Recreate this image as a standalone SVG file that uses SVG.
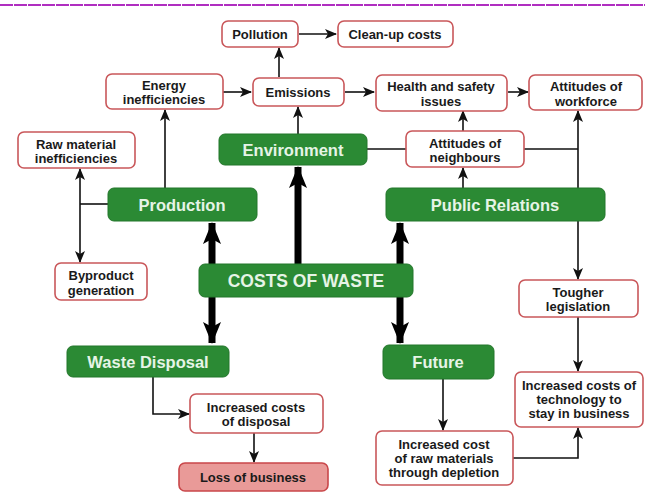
<svg xmlns="http://www.w3.org/2000/svg" width="645" height="492" viewBox="0 0 645 492">
<style>
.box{fill:#fff;stroke:#c9575a;stroke-width:1.6}
.loss{fill:#e99a98;stroke:#c9474a;stroke-width:1.6}
.g{fill:#2b8a34;stroke:#23762b;stroke-width:1}
.t{font-family:"Liberation Sans",Arial,sans-serif;font-weight:bold;font-size:13px;fill:#1a1a1a;text-anchor:middle;dominant-baseline:central}
.gt{font-family:"Liberation Sans",Arial,sans-serif;font-weight:bold;font-size:16.5px;fill:#e6f4e6;text-anchor:middle;dominant-baseline:central}
.ln{fill:none;stroke:#111;stroke-width:1.6}
.thick{fill:none;stroke:#000;stroke-width:7}
</style>
<defs>
<marker id="a" markerUnits="userSpaceOnUse" markerWidth="12" markerHeight="10" refX="11" refY="5" orient="auto-start-reverse"><path d="M0,0 L12,5 L0,10 L3,5 Z" fill="#111"/></marker>
<marker id="b" markerUnits="userSpaceOnUse" markerWidth="22" markerHeight="18" refX="21" refY="9" orient="auto-start-reverse"><path d="M0,0 L22,9 L0,18 L5,9 Z" fill="#000"/></marker>
</defs>
<line x1="0" y1="5" x2="645" y2="5" stroke="#b02ec0" stroke-width="2" stroke-dasharray="13 1"/>
<g id="connectors">
<line class="ln" x1="299" y1="34" x2="336" y2="34" marker-end="url(#a)"/>
<line class="ln" x1="279" y1="77" x2="279" y2="48" marker-end="url(#a)"/>
<line class="ln" x1="223" y1="92" x2="251" y2="92" marker-end="url(#a)"/>
<line class="ln" x1="298" y1="134" x2="298" y2="107" marker-end="url(#a)"/>
<line class="ln" x1="345" y1="92" x2="374" y2="92" marker-end="url(#a)"/>
<line class="ln" x1="508" y1="92" x2="528" y2="92" marker-end="url(#a)"/>
<line class="ln" x1="165" y1="188" x2="165" y2="110" marker-end="url(#a)"/>
<line class="ln" x1="108" y1="204" x2="80" y2="204"/>
<line class="ln" x1="80" y1="204" x2="80" y2="169" marker-end="url(#a)"/>
<line class="ln" x1="80" y1="204" x2="80" y2="262" marker-end="url(#a)"/>
<line class="ln" x1="367" y1="149" x2="406" y2="149"/>
<line class="ln" x1="524" y1="149" x2="578" y2="149"/>
<line class="ln" x1="578" y1="188" x2="578" y2="111" marker-end="url(#a)"/>
<line class="ln" x1="463" y1="188" x2="463" y2="168" marker-end="url(#a)"/>
<line class="ln" x1="463" y1="131" x2="463" y2="111" marker-end="url(#a)"/>
<line class="ln" x1="578" y1="221" x2="578" y2="279" marker-end="url(#a)"/>
<line class="ln" x1="578" y1="317" x2="578" y2="371" marker-end="url(#a)"/>
<polyline class="ln" points="513,458 578,458 578,428" marker-end="url(#a)"/>
<line class="ln" x1="443" y1="379" x2="443" y2="430" marker-end="url(#a)"/>
<polyline class="ln" points="153,377 153,414 189,414" marker-end="url(#a)"/>
<line class="ln" x1="254" y1="433" x2="254" y2="462" marker-end="url(#a)"/>
<line class="thick" x1="212" y1="223" x2="212" y2="343" marker-start="url(#b)" marker-end="url(#b)"/>
<line class="thick" x1="400" y1="223" x2="400" y2="343" marker-start="url(#b)" marker-end="url(#b)"/>
<line class="thick" x1="298" y1="264" x2="298" y2="167" marker-end="url(#b)"/>
</g>
<g id="pollution"><rect class="box" x="222" y="21" width="76" height="26" rx="6"/><text class="t" x="260" y="34">Pollution</text></g>
<g id="cleanup"><rect class="box" x="338" y="21" width="115" height="26" rx="6"/><text class="t" x="395" y="34">Clean-up costs</text></g>
<g id="energy"><rect class="box" x="106" y="74" width="117" height="35" rx="6"/><text class="t" x="164" y="85">Energy</text><text class="t" x="164" y="99">inefficiencies</text></g>
<g id="emissions"><rect class="box" x="253" y="78" width="91" height="28" rx="6"/><text class="t" x="298" y="92">Emissions</text></g>
<g id="health"><rect class="box" x="376" y="75" width="131" height="36" rx="6"/><text class="t" x="441" y="86">Health and safety</text><text class="t" x="441" y="101">issues</text></g>
<g id="workforce"><rect class="box" x="529" y="75" width="113" height="35" rx="6"/><text class="t" x="586" y="86">Attitudes of</text><text class="t" x="586" y="101">workforce</text></g>
<g id="raw"><rect class="box" x="18" y="132" width="117" height="36" rx="6"/><text class="t" x="76" y="144">Raw material</text><text class="t" x="76" y="158">inefficiencies</text></g>
<g id="environment"><rect class="g" x="219" y="134" width="148" height="31" rx="6"/><text class="gt" x="293" y="150">Environment</text></g>
<g id="neighbours"><rect class="box" x="406" y="131" width="118" height="36" rx="6"/><text class="t" x="465" y="143">Attitudes of</text><text class="t" x="465" y="157">neighbours</text></g>
<g id="production"><rect class="g" x="108" y="188" width="149" height="33" rx="6"/><text class="gt" x="182" y="205">Production</text></g>
<g id="publicrelations"><rect class="g" x="386" y="188" width="219" height="33" rx="6"/><text class="gt" x="495" y="205">Public Relations</text></g>
<g id="byproduct"><rect class="box" x="55" y="263" width="92" height="37" rx="6"/><text class="t" x="101" y="275">Byproduct</text><text class="t" x="101" y="290">generation</text></g>
<g id="costs"><rect class="g" x="199" y="264" width="214" height="33" rx="6"/><text class="gt" x="306" y="281" style="font-size:17.5px">COSTS OF WASTE</text></g>
<g id="tougher"><rect class="box" x="519" y="280" width="119" height="37" rx="6"/><text class="t" x="578" y="292">Tougher</text><text class="t" x="578" y="306">legislation</text></g>
<g id="wastedisposal"><rect class="g" x="67" y="346" width="162" height="31" rx="6"/><text class="gt" x="148" y="362">Waste Disposal</text></g>
<g id="future"><rect class="g" x="383" y="345" width="111" height="34" rx="6"/><text class="gt" x="438" y="362">Future</text></g>
<g id="technology"><rect class="box" x="515" y="372" width="128" height="55" rx="6"/><text class="t" x="579" y="385">Increased costs of</text><text class="t" x="579" y="399">technology to</text><text class="t" x="579" y="413">stay in business</text></g>
<g id="disposal"><rect class="box" x="190" y="394" width="133" height="39" rx="6"/><text class="t" x="256" y="407">Increased costs</text><text class="t" x="256" y="421">of disposal</text></g>
<g id="rawcost"><rect class="box" x="376" y="431" width="137" height="54" rx="6"/><text class="t" x="444" y="444">Increased cost</text><text class="t" x="444" y="458">of raw materials</text><text class="t" x="444" y="472">through depletion</text></g>
<g id="loss"><rect class="loss" x="179" y="463" width="149" height="28" rx="6"/><text class="t" x="253" y="477">Loss of business</text></g>
</svg>
